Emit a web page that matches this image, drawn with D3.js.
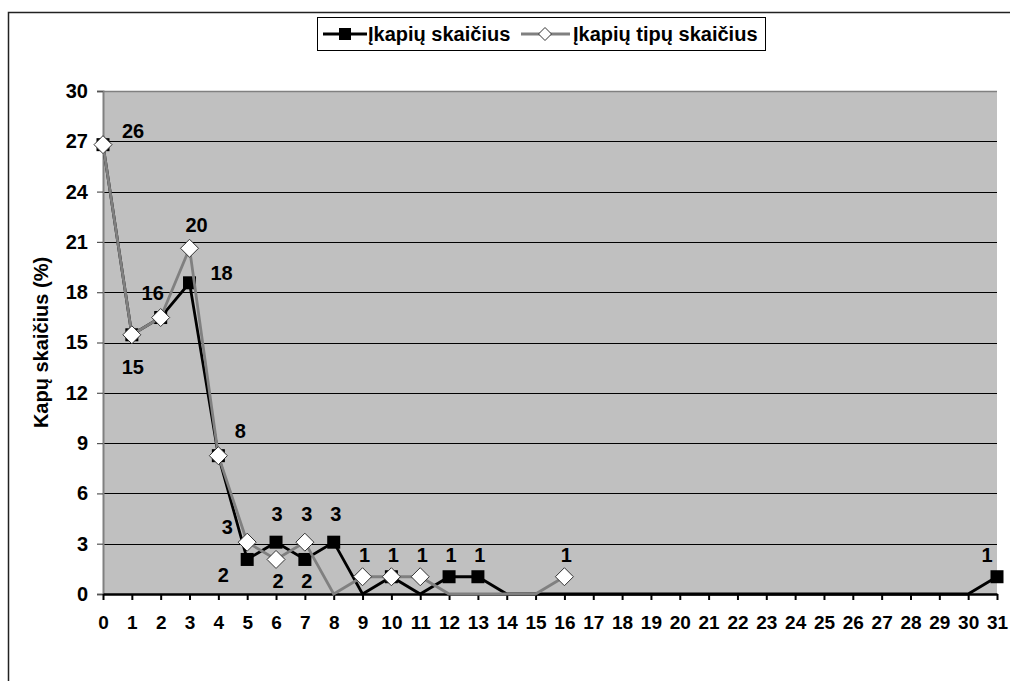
<!DOCTYPE html>
<html>
<head>
<meta charset="utf-8">
<script src="https://cdn.jsdelivr.net/npm/d3@7"></script>
<style>
  html, body { margin: 0; padding: 0; background: #ffffff; }
  svg { display: block; }
  text { font-family: "Liberation Sans", Arial, sans-serif; font-weight: bold; fill: #000; }
</style>
</head>
<body>
<svg id="chart" width="1010" height="681"></svg>
<script>
// ---------- data ----------
const categories = [0,1,2,3,4,5,6,7,8,9,10,11,12,13,14,15,16,17,18,19,20,21,22,23,24,25,26,27,28,29,30,31];
const seriesNames = ["Įkapių skaičius", "Įkapių tipų skaičius"];
// percentages (%)
const graveGoods = [26.80,15.46,16.49,18.56,8.25,2.06,3.09,2.06,3.09,0,1.03,0,1.03,1.03,0,0,0,0,0,0,0,0,0,0,0,0,0,0,0,0,0,1.03];
const graveGoodTypes = [26.80,15.46,16.49,20.62,8.25,3.09,2.06,3.09,0,1.03,1.03,1.03,0,0,0,0,1.03];
const yTicks = [0,3,6,9,12,15,18,21,24,27,30];
const yTitle = "Kapų skaičius (%)";
// data labels: text, series (0 = squares, 1 = diamonds), category index
const labelTexts  = ["26","15","16","20","18","8","3","2","3","2","3","2","3","1","1","1","1","1","1","1"];
const labelSeries = [1,1,1,1,0,1,1,0,0,1,1,0,0,1,1,1,0,0,1,0];
const labelIndex  = [0,1,2,3,3,4,5,5,6,6,7,7,8,9,10,11,12,13,16,31];

// ---------- layout / style ----------
const labelOffsets = [[30,-14],[1,32],[-8,-25],[7,-23],[32,-10],[22,-25],[-20,-15],[-24,16],[1,-28],[2,22],[2,-28],[2,22],[2,-28],[2,-22],[2,-22],[2,-22],[2,-22],[2,-22],[2,-22],[-10,-22]];
const plot = { left: 103, right: 997, top: 91, bottom: 594 };
const FS = 20;
const FSX = 19;

const svg = d3.select("#chart");

// outer chart border
svg.append("path")
  .attr("d", "M8.5,681 L8.5,12.5 L1010,12.5")
  .attr("fill", "none").attr("stroke", "#222").attr("stroke-width", 1.5);

const x = d3.scalePoint().domain(categories).range([plot.left, plot.right]);
const y = d3.scaleLinear().domain([0, 30]).range([plot.bottom, plot.top]);

// plot background
svg.append("rect")
  .attr("x", plot.left).attr("y", plot.top)
  .attr("width", plot.right - plot.left).attr("height", plot.bottom - plot.top)
  .attr("fill", "#c0c0c0");

// gridlines
svg.append("g").selectAll("line")
  .data(yTicks.filter(d => d > 0 && d < 30))
  .join("line")
  .attr("x1", plot.left).attr("x2", plot.right)
  .attr("y1", d => Math.round(y(d)) + 0.5).attr("y2", d => Math.round(y(d)) + 0.5)
  .attr("stroke", "#000").attr("stroke-width", 1);

// plot top border
svg.append("line")
  .attr("x1", plot.left).attr("x2", plot.right)
  .attr("y1", plot.top + 0.5).attr("y2", plot.top + 0.5)
  .attr("stroke", "#808080").attr("stroke-width", 1.5);

// y axis
const yAxis = d3.axisLeft(y).tickValues(yTicks).tickSize(6).tickPadding(9).tickFormat(d3.format("d"));
const gy = svg.append("g").attr("transform", `translate(${plot.left},0)`).call(yAxis);
gy.select(".domain").attr("stroke", "#808080").attr("stroke-width", 2);
gy.selectAll(".tick line").attr("stroke", "#555").attr("stroke-width", 1.2);
gy.selectAll(".tick text").attr("font-size", FS).attr("font-family", null).attr("fill", "#000");

// series lines & markers
const line = d3.line().x((d, i) => x(categories[i])).y(d => y(d));

svg.append("path").datum(graveGoods)
  .attr("d", line).attr("fill", "none")
  .attr("stroke", "#000").attr("stroke-width", 2.8).attr("stroke-linejoin", "miter");

// x axis (bottom)
const xAxis = d3.axisBottom(x).tickSize(6).tickPadding(16).tickSizeOuter(0);
const gx = svg.append("g").attr("transform", `translate(0,${plot.bottom})`).call(xAxis);
gx.select(".domain").attr("stroke", "#000").attr("stroke-width", 2.5);
gx.selectAll(".tick line").attr("stroke", "#000").attr("stroke-width", 2);
gx.selectAll(".tick text").attr("font-size", FSX).attr("font-family", null).attr("fill", "#000");

svg.append("g").selectAll("rect")
  .data(graveGoods.map((v, i) => [categories[i], v]).filter(d => d[1] > 0))
  .join("rect")
  .attr("x", d => x(d[0]) - 6.5).attr("y", d => y(d[1]) - 6.5)
  .attr("width", 13).attr("height", 13)
  .attr("fill", "#000");

svg.append("path").datum(graveGoodTypes)
  .attr("d", line).attr("fill", "none")
  .attr("stroke", "#808080").attr("stroke-width", 2.8);

svg.append("g").selectAll("path")
  .data(graveGoodTypes.map((v, i) => [categories[i], v]).filter(d => d[1] > 0))
  .join("path")
  .attr("d", "M0,-9 L9,0 L0,9 L-9,0 Z")
  .attr("transform", d => `translate(${x(d[0])},${y(d[1])})`)
  .attr("fill", "#fff").attr("stroke", "#333").attr("stroke-width", 1);

// data labels
const allSeries = [graveGoods, graveGoodTypes];
svg.append("g").selectAll("text")
  .data(labelTexts.map((t, k) => ({ t, s: labelSeries[k], i: labelIndex[k], o: labelOffsets[k] })))
  .join("text")
  .attr("x", d => x(categories[d.i]) + d.o[0])
  .attr("y", d => y(allSeries[d.s][d.i]) + d.o[1])
  .attr("text-anchor", "middle").attr("dominant-baseline", "central")
  .attr("font-size", FS)
  .text(d => d.t);

// y title
svg.append("text")
  .attr("transform", `translate(41,${(plot.top + plot.bottom) / 2}) rotate(-90)`)
  .attr("text-anchor", "middle").attr("dominant-baseline", "central")
  .attr("font-size", FS)
  .text(yTitle);

// legend
const lg = svg.append("g");
lg.append("rect").attr("x", 317.5).attr("y", 17.5).attr("width", 448).attr("height", 33)
  .attr("fill", "#fff").attr("stroke", "#000").attr("stroke-width", 1);
lg.append("line").attr("x1", 323).attr("x2", 367).attr("y1", 34).attr("y2", 34)
  .attr("stroke", "#000").attr("stroke-width", 2.8);
lg.append("rect").attr("x", 339).attr("y", 28).attr("width", 12).attr("height", 12).attr("fill", "#000");
lg.append("text").attr("x", 368).attr("y", 34).attr("dominant-baseline", "central")
  .attr("font-size", FS).text(seriesNames[0]);
lg.append("line").attr("x1", 521).attr("x2", 570).attr("y1", 34).attr("y2", 34)
  .attr("stroke", "#808080").attr("stroke-width", 2.8);
lg.append("path").attr("d", "M0,-6.5 L6.5,0 L0,6.5 L-6.5,0 Z")
  .attr("transform", "translate(545,34)")
  .attr("fill", "#fff").attr("stroke", "#333").attr("stroke-width", 1);
lg.append("text").attr("x", 573).attr("y", 34).attr("dominant-baseline", "central")
  .attr("font-size", FS).text(seriesNames[1]);
</script>
</body>
</html>
